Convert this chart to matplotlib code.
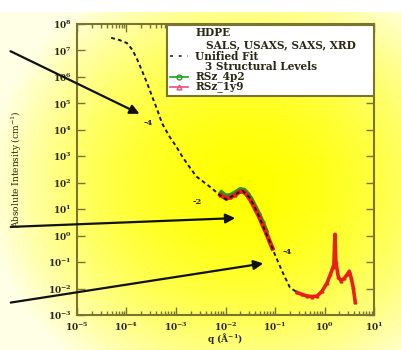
import numpy as np
import matplotlib
matplotlib.use("Agg")
import matplotlib.pyplot as plt
from matplotlib.patches import Rectangle, FancyArrowPatch
from matplotlib.lines import Line2D

plt.rcParams['font.family'] = ['DejaVu Serif']
plt.rcParams['font.weight'] = 'bold'
plt.rcParams['mathtext.fontset'] = 'custom'
plt.rcParams['mathtext.rm'] = 'DejaVu Serif:bold'
plt.rcParams['mathtext.default'] = 'regular'

# unified fit (3 structural levels)
fit_q = [4.9e-5, 7.1e-5, 1.02e-4, 1.32e-4, 1.66e-4, 2.1e-4, 2.6e-4, 3.3e-4, 4.2e-4,
         5.2e-4, 7.4e-4, 1.02e-3, 1.35e-3, 1.86e-3, 2.6e-3, 4.8e-3, 7.6e-3, 1.05e-2,
         1.4e-2, 1.8e-2, 2.2e-2, 3.1e-2, 4.3e-2, 5.6e-2, 7.8e-2, 0.10, 0.14, 0.20, 0.28]
fit_I = [3.0e7, 2.5e7, 1.9e7, 1.05e7, 4.4e6, 1.55e6, 5.9e5, 1.8e5, 5.6e4,
         1.8e4, 5.5e3, 2.3e3, 950, 400, 170, 71, 35, 23,
         32, 42, 50, 27, 8.1, 2.6, 0.59, 0.19, 0.044, 0.011, 0.0071]

# RSz_4p2 (SAXS)
g_q = [8.3e-3, 0.010, 0.0126, 0.0158, 0.020, 0.024, 0.028, 0.033, 0.040, 0.047, 0.056, 0.066]
g_I = [42, 32, 33, 42, 56, 52, 38, 24, 12, 6.6, 3.2, 1.5]

# RSz_1y9 (SAXS + XRD)
r_saxs_q = [7.9e-3, 0.010, 0.0126, 0.0158, 0.020, 0.024, 0.028, 0.033, 0.040, 0.047,
            0.056, 0.066, 0.079, 0.089]
r_saxs_I = [35, 26, 28, 35, 48, 45, 32, 20, 10, 5.6, 2.6, 1.3, 0.56, 0.33]
r_xrd_q = [0.28, 0.35, 0.45, 0.56, 0.71, 0.89, 1.12, 1.32, 1.48, 1.55, 1.62, 1.70,
           1.9, 2.14, 2.5, 2.9, 3.16, 3.47, 3.8, 4.17]
r_xrd_I = [0.0071, 0.006, 0.0052, 0.005, 0.0052, 0.0079, 0.016, 0.035, 0.063, 0.079,
           1.12, 0.10, 0.028, 0.020, 0.024, 0.035, 0.045, 0.025, 0.011, 0.0032]

W, H = 401, 350
olive = '#7a7430'
ink = '#2a2815'

fig = plt.figure(figsize=(W / 100, H / 100), dpi=100)

# yellow background glow
bg = fig.add_axes([0, 0, 1, 1], zorder=-10)
yy, xx = np.mgrid[0:H, 0:W]
d = np.sqrt(((xx - 245) / 260.0) ** 2 + ((yy - 185) / 230.0) ** 2)
t = np.clip(d, 0, 1) ** 1.8
img = np.ones((H, W, 3))
img[..., 2] = 0.0 + 0.9 * t
img[:12, :, :] = 1.0
bg.imshow(img, aspect='auto', extent=[0, W, H, 0])
bg.axis('off')


def px(x, y):
    # figure pixel (from top-left) -> axes fraction
    return (x - 77) / 297.0, (315 - y) / 291.0


ax = fig.add_axes([77 / W, (H - 315) / H, 297 / W, 291 / H])
ax.patch.set_alpha(0)
ax.set_xscale('log')
ax.set_yscale('log')
ax.set_xlim(1e-5, 1e1)
ax.set_ylim(1e-3, 1e8)

ax.plot(g_q, g_I, color='#1fa01f', lw=3.5, marker='o', ms=2, zorder=3)
ax.plot(r_saxs_q, r_saxs_I, color='#e8201a', lw=3.2, marker='^', ms=2, zorder=4)
ax.plot(r_xrd_q, r_xrd_I, color='#e8201a', lw=2.6, marker='^', ms=2, zorder=4)
ax.plot(fit_q, fit_I, color='#1a1a10', lw=1.4, ls=(0, (2, 1.6)), zorder=5)

for s in ax.spines.values():
    s.set_color(olive)
    s.set_linewidth(1.5)
ax.tick_params(which='both', direction='in', colors=olive, labelcolor=ink,
               labelsize=6.5, top=True, right=True, width=1.0)
ax.tick_params(which='major', length=6, pad=4)
ax.tick_params(which='minor', length=3)
ax.tick_params(axis='y', which='minor', left=False, right=False)
ax.set_yticks([10.0 ** k for k in range(-3, 9)])
ax.set_xticks([10.0 ** k for k in range(-5, 2)])

ax.set_ylabel('Absolute Intensity (cm$^{-1}$)', fontsize=6.5, color=ink, labelpad=17)
fig.text(225 / W, 1 - 339 / H, 'q (Å$^{-1}$)', fontsize=6.5, color=ink,
         ha='center', va='center')

# legend box
x0, y0 = px(167, 25)
x1, y1 = px(374, 96)
ax.add_patch(Rectangle((x0, y1), x1 - x0, y0 - y1, transform=ax.transAxes,
                       facecolor='white', edgecolor=olive, lw=1.5, zorder=6))
rows = [(195, 33, 'HDPE'), (206, 45, 'SALS, USAXS, SAXS, XRD'),
        (195, 56, 'Unified Fit'), (205, 66, '3 Structural Levels'),
        (195, 77, 'RSz_4p2'), (195, 87, 'RSz_1y9')]
for rx, ry, txt in rows:
    ax.text(*px(rx, ry), txt, transform=ax.transAxes, fontsize=7.6, color=ink,
            va='center', ha='left', zorder=7)
hx0, hy = px(170, 56)
hx1, _ = px(188, 56)
ax.add_line(Line2D([hx0, hx1], [hy, hy], transform=ax.transAxes, color='#444',
                   lw=1.4, ls=(0, (1.5, 3)), zorder=7))
for yrow, col, mk in [(77, '#1fa01f', 'o'), (87, '#e8507a', '^')]:
    _, hy = px(0, yrow)
    ax.add_line(Line2D([hx0, hx1], [hy, hy], transform=ax.transAxes, color=col,
                       lw=1.2, zorder=7))
    ax.add_line(Line2D([(hx0 + hx1) / 2], [hy], transform=ax.transAxes, color=col,
                       marker=mk, ms=3.5, mfc='none', mew=1.0, zorder=7))

# slope annotations
for sx, sy, lab in [(148, 123, '-4'), (197, 202, '-2'), (287, 252, '-4')]:
    ax.text(*px(sx, sy), lab, transform=ax.transAxes, fontsize=6, color=ink,
            ha='center', va='center')

arrows = [((8, 50), (142, 115)), ((8, 227), (238, 218)), ((8, 303), (266, 263))]
for (sx, sy), (ex, ey) in arrows:
    fig.add_artist(FancyArrowPatch(
        (sx / W, 1 - sy / H), (ex / W, 1 - ey / H), transform=fig.transFigure,
        arrowstyle='-|>', mutation_scale=14, lw=1.6, color='#111', zorder=8))

fig.savefig('out.png', dpi=100)
